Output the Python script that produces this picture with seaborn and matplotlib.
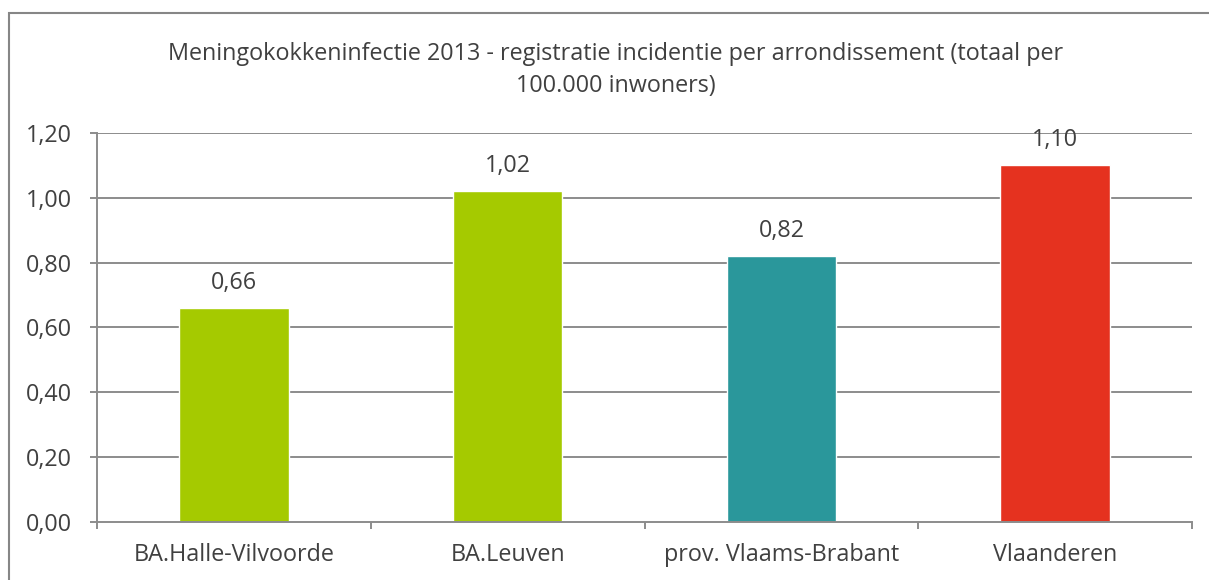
import matplotlib
matplotlib.use('Agg')
import matplotlib.pyplot as plt
import matplotlib.patches as patches
import numpy as np
import pandas as pd
import seaborn as sns

categories = ['BA.Halle-Vilvoorde', 'BA.Leuven', 'prov. Vlaams-Brabant', 'Vlaanderen']
values = [0.66, 1.02, 0.82, 1.10]
colors = ['#A5CA00', '#A5CA00', '#2A979B', '#E5321F']
yticks = [0.0, 0.2, 0.4, 0.6, 0.8, 1.0, 1.2]
title = 'Meningokokkeninfectie 2013 - registratie incidentie per arrondissement (totaal per\n100.000 inwoners)'

sns.set_style('white')
plt.rcParams['font.family'] = ['Open Sans', 'DejaVu Sans']
txt = '#404040'
grid = '#8C8C8C'
fs = 16.8

df = pd.DataFrame({'cat': categories, 'val': values})

fig = plt.figure(figsize=(12.09, 5.8), dpi=100)
ax = fig.add_axes([0.0802, 0.1, 0.9058, 0.6707])

sns.barplot(data=df, x='cat', y='val', hue='cat', palette=colors, legend=False,
            width=0.4, saturation=1, ax=ax)

ax.set_ylim(0, 1.2)
ax.set_xlim(-0.5, len(categories) - 0.5)
ax.set_yticks(yticks)
ax.set_yticklabels(['{:.2f}'.format(v).replace('.', ',') for v in yticks])
for v in yticks[1:]:
    ax.axhline(v, color=grid, lw=1.4, zorder=0)
ax.set_axisbelow(True)

for i, v in enumerate(values):
    ax.text(i, v + 0.077, '{:.2f}'.format(v).replace('.', ','), ha='center', va='center',
            fontsize=fs, color=txt)

# category separators as minor ticks
ax.set_xticks(np.arange(-0.5, len(categories), 1), minor=True)
ax.tick_params(axis='x', which='major', length=0, pad=15, labelsize=fs, labelcolor=txt)
ax.tick_params(axis='x', which='minor', length=5, width=1.4, color=grid, direction='out')
ax.tick_params(axis='y', length=5, width=1.4, color=grid, direction='out', pad=13,
               labelsize=fs, labelcolor=txt)
ax.tick_params(left=True, bottom=True, which='both')

sns.despine(ax=ax, top=True, right=True)
for s in ['left', 'bottom']:
    ax.spines[s].set_color(grid)
    ax.spines[s].set_linewidth(1.4)

ax.set_xlabel('')
ax.set_ylabel('')

fig.text(0.509, 0.879, title, ha='center', va='center', fontsize=fs, color=txt,
         linespacing=1.45)

border = patches.Rectangle((9 / 1209, -0.05), 1.1, (580 - 13) / 580 + 0.05,
                           transform=fig.transFigure, fill=False, edgecolor='#868686',
                           lw=1.5)
fig.patches.append(border)

fig.savefig('out.png', dpi=100)
